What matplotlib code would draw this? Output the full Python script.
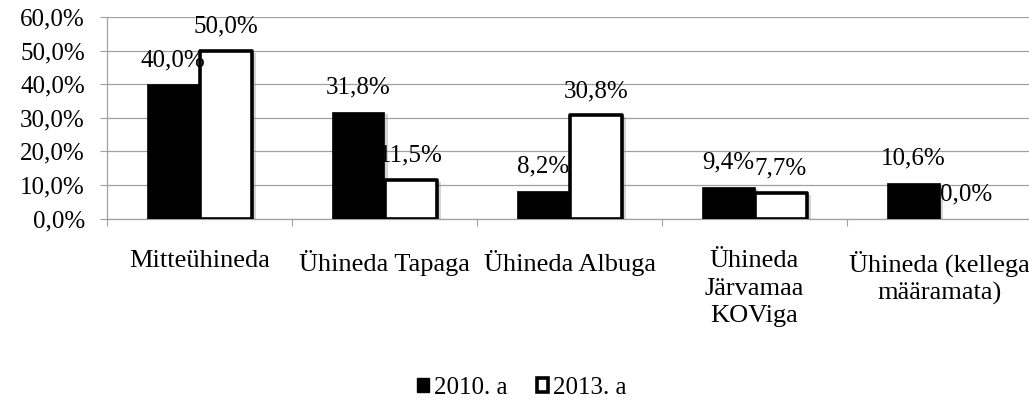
import matplotlib.pyplot as plt
import matplotlib.patheffects as pe
from matplotlib.patches import Patch
import numpy as np

# data
categories = ["Mitteühineda", "Ühineda Tapaga", "Ühineda Albuga",
              "Ühineda\nJärvamaa\nKOViga", "Ühineda (kellega\nmääramata)"]
series_names = ["2010. a", "2013. a"]
values_2010 = [40.0, 31.8, 8.2, 9.4, 10.6]
values_2013 = [50.0, 11.5, 30.8, 7.7, 0.0]
y_ticks = [0, 10, 20, 30, 40, 50, 60]

plt.rcParams['font.family'] = ['Liberation Serif', 'DejaVu Serif']


def pct(v):
    return f"{v:.1f}%".replace(".", ",")


fig = plt.figure(figsize=(10.29, 4.01), dpi=100)
ax = fig.add_axes([107 / 1029, 182.5 / 401, 925 / 1029, 201.2 / 401])

x = np.arange(len(categories))
w = 0.285
shadow = [pe.SimplePatchShadow(offset=(2.5, -1.5), shadow_rgbFace='#888888', alpha=0.35), pe.Normal()]

b1 = ax.bar(x - w / 2, values_2010, w, color='black', edgecolor='black', linewidth=0.5,
            zorder=3, path_effects=shadow)
b2 = ax.bar(x + w / 2, values_2013, w, color='white', edgecolor='black', linewidth=2.6,
            zorder=3, path_effects=shadow)
for b in b2:
    b.set_joinstyle('round')
    if b.get_height() == 0:
        b.set_visible(False)

for bars, vals in [(b1, values_2010), (b2, values_2013)]:
    for b, v in zip(bars, vals):
        ax.annotate(pct(v), (b.get_x() + b.get_width() / 2, v), xytext=(0, 13),
                    textcoords='offset points', ha='center', va='baseline',
                    fontsize=18, zorder=5)

ax.set_xlim(-0.5, len(categories) - 0.5)
ax.set_ylim(0, 60)
ax.set_yticks(y_ticks)
ax.set_yticklabels([pct(v) for v in y_ticks])
ax.set_xticks(x)
ax.set_xticklabels(categories, linespacing=1.3)
ax.set_xticks(np.arange(len(categories) + 1) - 0.5, minor=True)

ax.tick_params(axis='y', labelsize=18, length=5, width=0.8, color='#a0a0a0', pad=11)
ax.tick_params(axis='x', which='major', labelsize=19, length=0, pad=23)
ax.tick_params(axis='x', which='minor', length=5, width=0.8, color='#a0a0a0')

ax.grid(axis='y', color='#a0a0a0', linewidth=0.9, zorder=0)
ax.set_axisbelow(True)
for s in ['top', 'right']:
    ax.spines[s].set_visible(False)
for s in ['left', 'bottom']:
    ax.spines[s].set_color('#a0a0a0')
    ax.spines[s].set_linewidth(0.9)

handles = [Patch(facecolor='black', edgecolor='black'),
           Patch(facecolor='white', edgecolor='black', linewidth=2.6)]
fig.legend(handles, series_names, loc='center', bbox_to_anchor=(522 / 1029, 1 - 388 / 401),
           ncol=2, frameon=False, fontsize=18, handlelength=0.45, handleheight=0.45,
           handletextpad=0.2, columnspacing=1.2)

fig.savefig("out.png", dpi=100)
plt.close(fig)
